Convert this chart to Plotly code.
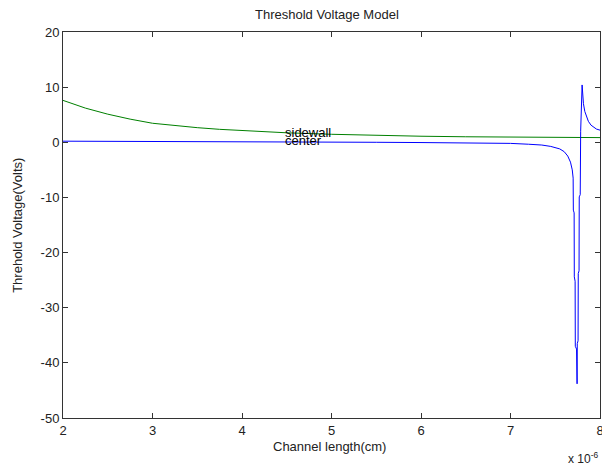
import plotly.graph_objects as go

# Channel length (x 1e-6 cm) and threshold voltage (Volts)
sidewall_x = [2.0, 2.25, 2.5, 2.75, 3.0, 3.25, 3.5, 3.75, 4.0, 4.5, 5.0, 5.5, 6.0, 6.5, 7.0, 7.5, 8.0]
sidewall_y = [7.6, 6.2, 5.1, 4.2, 3.45, 3.0, 2.65, 2.35, 2.1, 1.72, 1.45, 1.25, 1.1, 1.0, 0.93, 0.88, 0.85]

center_x = [2.0, 3.0, 4.0, 5.0, 5.5, 6.0, 6.5, 7.0, 7.2, 7.35, 7.45, 7.55, 7.6, 7.64, 7.67, 7.69, 7.70,
            7.702, 7.711, 7.713, 7.722, 7.724, 7.738, 7.740, 7.744, 7.746, 7.755, 7.757, 7.766, 7.768,
            7.779, 7.784, 7.800, 7.805, 7.815, 7.83, 7.85, 7.87, 7.90, 7.93, 7.96, 8.0]
center_y = [0.2, 0.18, 0.12, 0.05, 0.0, -0.05, -0.1, -0.2, -0.35, -0.5, -0.75, -1.2, -1.7, -2.5, -3.6, -5.0, -6.5,
            -12.3, -12.8, -24.4, -25.2, -37.0, -37.5, -43.8, -43.8, -36.5, -36.0, -23.8, -23.3, -9.9,
            -9.5, 2.0, 10.4, 9.0, 7.0, 5.6, 4.5, 3.8, 3.1, 2.7, 2.4, 2.2]

x_ticks = [2, 3, 4, 5, 6, 7, 8]
y_ticks = [20, 10, 0, -10, -20, -30, -40, -50]

labels = ["sidewall", "center"]
label_x = [4.46, 4.46]
label_y = [1.8, 0.35]

font = "Liberation Sans, Arial, sans-serif"
txt = dict(family=font, size=13, color="#222")

fig = go.Figure()
fig.add_trace(go.Scatter(x=sidewall_x, y=sidewall_y, mode="lines",
                         line=dict(color="#008000", width=1), showlegend=False))
fig.add_trace(go.Scatter(x=center_x, y=center_y, mode="lines",
                         line=dict(color="#0000ff", width=1), showlegend=False))

for t, xx, yy in zip(labels, label_x, label_y):
    fig.add_annotation(x=xx, y=yy, text=t, showarrow=False, xanchor="left", yanchor="middle",
                       font=dict(family=font, size=13, color="black"))

# axis titles and exponent label
fig.add_annotation(xref="paper", yref="paper", x=0.497, y=-0.075, text="Channel length(cm)",
                   showarrow=False, xanchor="center", yanchor="middle", font=txt)
fig.add_annotation(xref="paper", yref="paper", x=-0.086, y=0.5, text="Threhold Voltage(Volts)",
                   showarrow=False, xanchor="center", yanchor="middle", textangle=-90, font=txt)
fig.add_annotation(xref="paper", yref="paper", x=1.0, y=-0.104, text="x 10<sup>-6</sup>",
                   showarrow=False, xanchor="right", yanchor="middle",
                   font=dict(family=font, size=12, color="#222"))

axis_common = dict(showgrid=False, zeroline=False, showline=True, linecolor="#333",
                   linewidth=1, mirror="ticks", ticks="inside", ticklen=5, tickcolor="#333",
                   automargin=False, ticklabeloverflow="allow", tickfont=txt)

fig.update_layout(
    width=602, height=466,
    margin=dict(l=63, r=2, t=32, b=48),
    paper_bgcolor="white", plot_bgcolor="white",
    title=dict(text="Threshold Voltage Model", x=0.543, xanchor="center", y=0.968, yanchor="middle",
               automargin=False, font=txt),
    xaxis=dict(range=[2, 8], tickvals=x_ticks, ticktext=[str(v) for v in x_ticks], **axis_common),
    yaxis=dict(range=[-50, 20], tickvals=y_ticks, ticktext=[str(v) for v in y_ticks], **axis_common),
)

fig.write_html("out.html", config={"displayModeBar": False},
               post_script="document.body.style.margin='0';document.body.style.overflow='hidden';")
